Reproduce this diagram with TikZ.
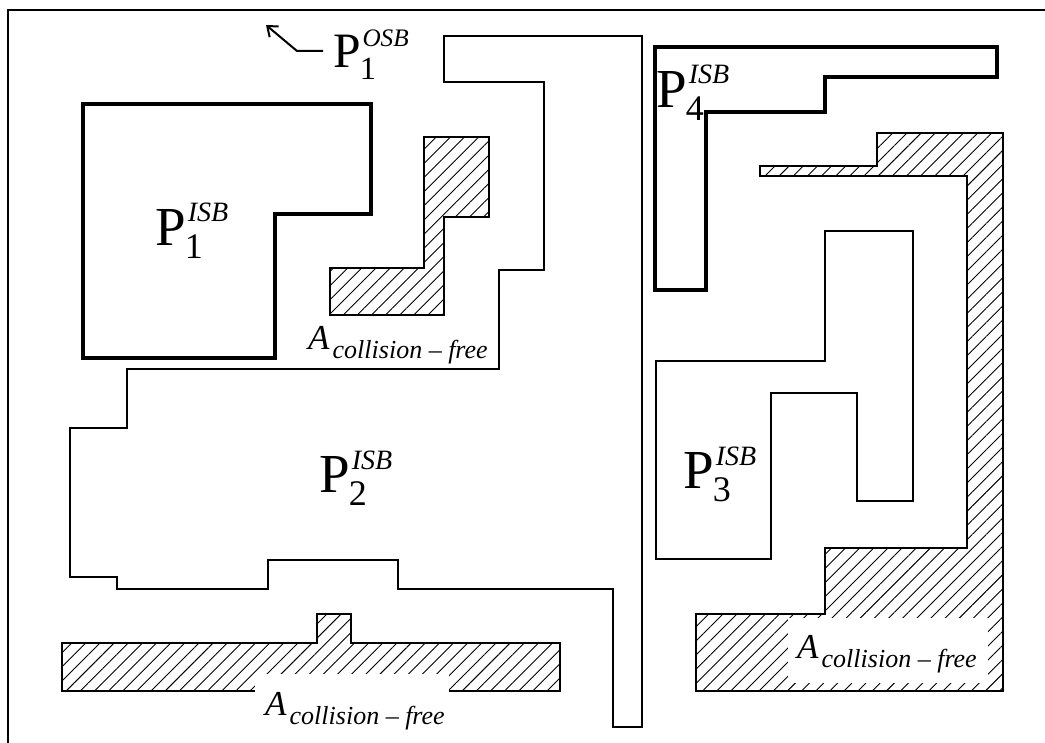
\documentclass[tikz,border=0pt]{standalone}
\usepackage{fontspec}
\setmainfont{Liberation Serif}
\usepackage{graphicx}
\usepackage{tikz}
\usetikzlibrary{arrows.meta, patterns.meta}

\newcommand{\plab}[2]{P\kern-1pt\rlap{\raisebox{24pt}{\fontsize{28pt}{28pt}\selectfont\kern3pt\textit{#2}}}\raisebox{-13pt}{\fontsize{36pt}{36pt}\selectfont #1}}
\newcommand{\afree}{\textit{A}\kern3pt\raisebox{-9pt}{\fontsize{26pt}{26pt}\selectfont\textit{collision – free}}}

\begin{document}
\begin{tikzpicture}[
    x=1pt, y=-1pt,
    frame/.style={line width=2.5pt},
    isb/.style={draw, line width=2pt},
    isbthick/.style={draw, line width=3.2pt},
    freearea/.style={draw, line width=1.6pt,
                     pattern={Lines[angle=45, distance=10pt, line width=0.9pt]}},
    plbl/.style={inner sep=0pt, anchor=base west, font=\fontsize{55pt}{60pt}\selectfont},
    albl/.style={inner sep=0pt, anchor=base west, font=\fontsize{35pt}{40pt}\selectfont},
    arr/.style={-{Straight Barb[length=9pt, width=14pt]}, line width=2pt}
  ]

    \useasboundingbox (0,0) rectangle (1045,743);
    \draw[frame] (8,743) -- (8,10) -- (1045,10);

    \draw[isbthick] (83,104) -- (371,104) -- (371,214) -- (275,214) -- (275,358) -- (83,358) -- cycle;
    \draw[isb] (70,428) -- (127,428) -- (127,369) -- (499,369) -- (499,270) -- (544,270) -- (544,82)
      -- (444,82) -- (444,36) -- (642,36) -- (642,727) -- (613,727) -- (613,589) -- (398,589)
      -- (398,560) -- (268,560) -- (268,589) -- (117,589) -- (117,577) -- (70,577) -- cycle;
    \draw[isbthick] (655,47) -- (997,47) -- (997,77) -- (825,77) -- (825,112) -- (706,112) -- (706,290) -- (655,290) -- cycle;
    \draw[isb] (656,361) -- (825,361) -- (825,231) -- (913,231) -- (913,501) -- (857,501) -- (857,393)
      -- (771,393) -- (771,559) -- (656,559) -- cycle;

    \draw[freearea] (424,137) -- (489,137) -- (489,217) -- (444,217) -- (444,315) -- (330,315) -- (330,268) -- (424,268) -- cycle;
    \draw[freearea] (62,643) -- (317,643) -- (317,614) -- (351,614) -- (351,643) -- (560,643) -- (560,691) -- (62,691) -- cycle;
    \draw[freearea] (696,614) -- (825,614) -- (825,548) -- (967,548) -- (967,176) -- (760,176) -- (760,166)
      -- (877,166) -- (877,133) -- (1003,133) -- (1003,691) -- (696,691) -- cycle;
    \fill[white] (255,674) rectangle (449,696);
    \fill[white] (788,618) rectangle (988,683);

    \node[plbl] (isbone)   at (155,246) {\plab{1}{ISB}};
    \node[plbl] (isbtwo)   at (319,493) {\plab{2}{ISB}};
    \node[plbl] (isbthree) at (683,489) {\plab{3}{ISB}};
    \node[plbl] (isbfour)  at (656,108) {\plab{4}{ISB}};
    \node[plbl] (osb)      at (333,68)  {\scalebox{0.9}{\plab{1}{OSB}}};

    \node[albl] (freetop)   at (308,350) {\afree};
    \node[albl] (freebot)   at (265,715) {\afree};
    \node[albl] (freeright) at (797,658) {\afree};

    \coordinate (osbbend) at (297,51);
    \coordinate (osbtip)  at (266,25);
    \draw[arr, shorten <=10pt] (osbbend -| osb.west) -- (osbbend) -- (osbtip);

\end{tikzpicture}
\end{document}
